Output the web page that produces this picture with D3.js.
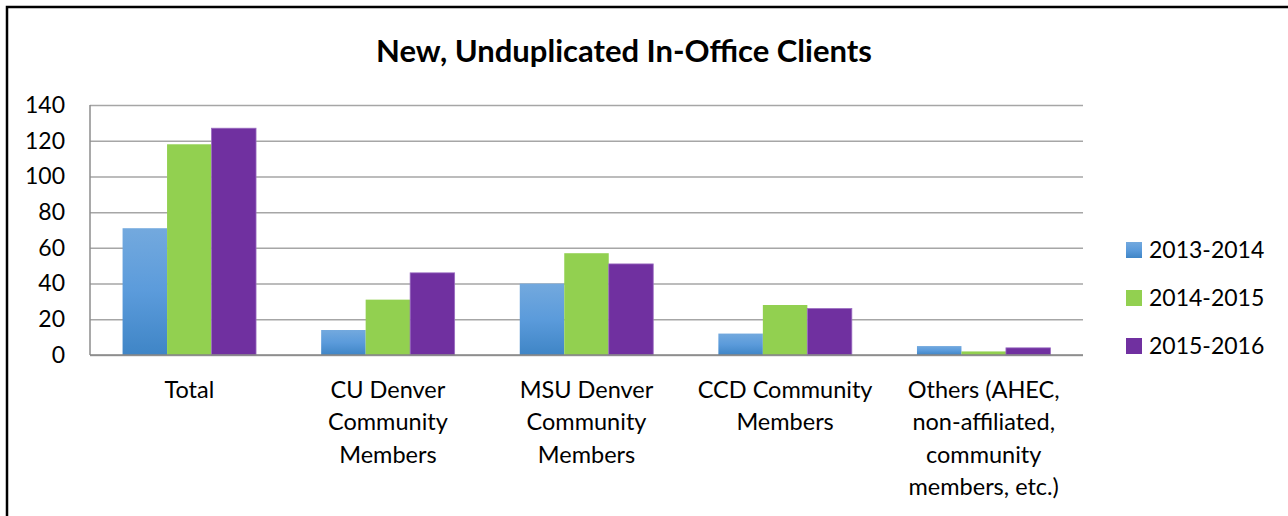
<!DOCTYPE html>
<html>
<head>
<meta charset="utf-8">
<script src="https://cdn.jsdelivr.net/npm/d3@7"></script>
<style>
  body { margin: 0; background: #fff; }
  svg { display: block; font-family: Lato, "Open Sans", sans-serif; }
</style>
</head>
<body>
<svg id="chart" width="1288" height="516"></svg>
<script>
const categories = [
  'Total',
  'CU Denver\nCommunity\nMembers',
  'MSU Denver\nCommunity\nMembers',
  'CCD Community\nMembers',
  'Others (AHEC,\nnon-affiliated,\ncommunity\nmembers, etc.)'
]
const seriesNames = ['2013-2014', '2014-2015', '2015-2016']
const values2013 = [71, 14, 40, 12, 5]
const values2014 = [118, 31, 57, 28, 2]
const values2015 = [127, 46, 51, 26, 4]
const yTicks = [0, 20, 40, 60, 80, 100, 120, 140]

const seriesValues = [values2013, values2014, values2015]
const colors = ['url(#blueGrad)', '#92d050', '#7030a0']

const svg = d3.select('#chart')
const margin = {left: 90, top: 105, right: 1083, bottom: 355}

// outer border, runs off the right and bottom edge
svg.append('path')
  .attr('d', 'M7,516 V7 H1288')
  .attr('fill', 'none')
  .attr('stroke', '#000')
  .attr('stroke-width', 2.5)

const defs = svg.append('defs')
const grad = defs.append('linearGradient')
  .attr('id', 'blueGrad')
  .attr('x1', 0).attr('y1', 0).attr('x2', 0).attr('y2', 1)
grad.append('stop').attr('offset', '0%').attr('stop-color', '#73a9de')
grad.append('stop').attr('offset', '50%').attr('stop-color', '#5b9bdb')
grad.append('stop').attr('offset', '100%').attr('stop-color', '#3f85c6')

const x = d3.scaleBand()
  .domain(categories)
  .range([margin.left, margin.right])
  .paddingInner(0.328)
  .paddingOuter(0.164)

const xSub = d3.scaleBand()
  .domain(seriesNames)
  .range([0, x.bandwidth()])

const y = d3.scaleLinear()
  .domain([0, 140])
  .range([margin.bottom, margin.top])

// gridlines
svg.append('g')
  .attr('transform', `translate(${margin.left},0)`)
  .call(d3.axisLeft(y).tickValues(yTicks).tickSize(-(margin.right - margin.left)).tickFormat(''))
  .call((g) => g.select('.domain').remove())
  .call((g) => g.selectAll('line')
    .attr('stroke', '#a6a6a6')
    .attr('stroke-width', 1.5))

// y tick labels
svg.append('g')
  .attr('transform', `translate(65,0)`)
  .call(d3.axisLeft(y).tickValues(yTicks).tickSize(0).tickPadding(0))
  .call((g) => g.select('.domain').remove())
  .call((g) => g.selectAll('text')
    .attr('fill', '#000')
    .style('font-size', '23px')
    .style('font-family', 'Lato, sans-serif'))

// left axis line
svg.append('line')
  .attr('x1', margin.left).attr('x2', margin.left)
  .attr('y1', margin.top).attr('y2', margin.bottom)
  .attr('stroke', '#8c8c8c')
  .attr('stroke-width', 1.5)

// bars
const groups = svg.append('g')
  .selectAll('g')
  .data(categories)
  .join('g')
  .attr('transform', (d) => `translate(${x(d)},0)`)

groups.selectAll('rect')
  .data((d, i) => seriesNames.map((s, j) => ({s, j, v: seriesValues[j][i]})))
  .join('rect')
  .attr('x', (d) => xSub(d.s))
  .attr('width', xSub.bandwidth())
  .attr('y', (d) => y(d.v))
  .attr('height', (d) => y(0) - y(d.v))
  .attr('fill', (d) => colors[d.j])
  .attr('stroke', (d) => d.j === 2 ? '#9a6cc0' : 'none')
  .attr('stroke-width', 0.8)

// baseline
svg.append('line')
  .attr('x1', margin.left).attr('x2', margin.right)
  .attr('y1', y(0)).attr('y2', y(0))
  .attr('stroke', '#868686')
  .attr('stroke-width', 1.5)

// category labels
const labels = svg.append('g')
  .selectAll('text')
  .data(categories)
  .join('text')
  .attr('x', (d) => x(d) + x.bandwidth() / 2)
  .attr('y', 398)
  .attr('text-anchor', 'middle')
  .style('font-size', '23.5px')
  .attr('fill', '#000')

labels.selectAll('tspan')
  .data((d) => d.split('\n'))
  .join('tspan')
  .attr('x', function() {
    return d3.select(this.parentNode).attr('x')
  })
  .attr('dy', (d, i) => i === 0 ? 0 : 32.3)
  .text((d) => d)

// title
svg.append('text')
  .attr('x', 624)
  .attr('y', 62)
  .attr('text-anchor', 'middle')
  .style('font-size', '31px')
  .style('font-weight', 'bold')
  .text('New, Unduplicated In-Office Clients')

// legend
const legend = svg.append('g')
  .selectAll('g')
  .data(seriesNames)
  .join('g')
  .attr('transform', (d, i) => `translate(1126,${250 + i * 48})`)

legend.append('rect')
  .attr('x', 0).attr('y', -8)
  .attr('width', 16).attr('height', 16)
  .attr('fill', (d, i) => colors[i])

legend.append('text')
  .attr('x', 23)
  .attr('y', 0)
  .attr('dy', '0.36em')
  .style('font-size', '23px')
  .text((d) => d)
</script>
</body>
</html>
